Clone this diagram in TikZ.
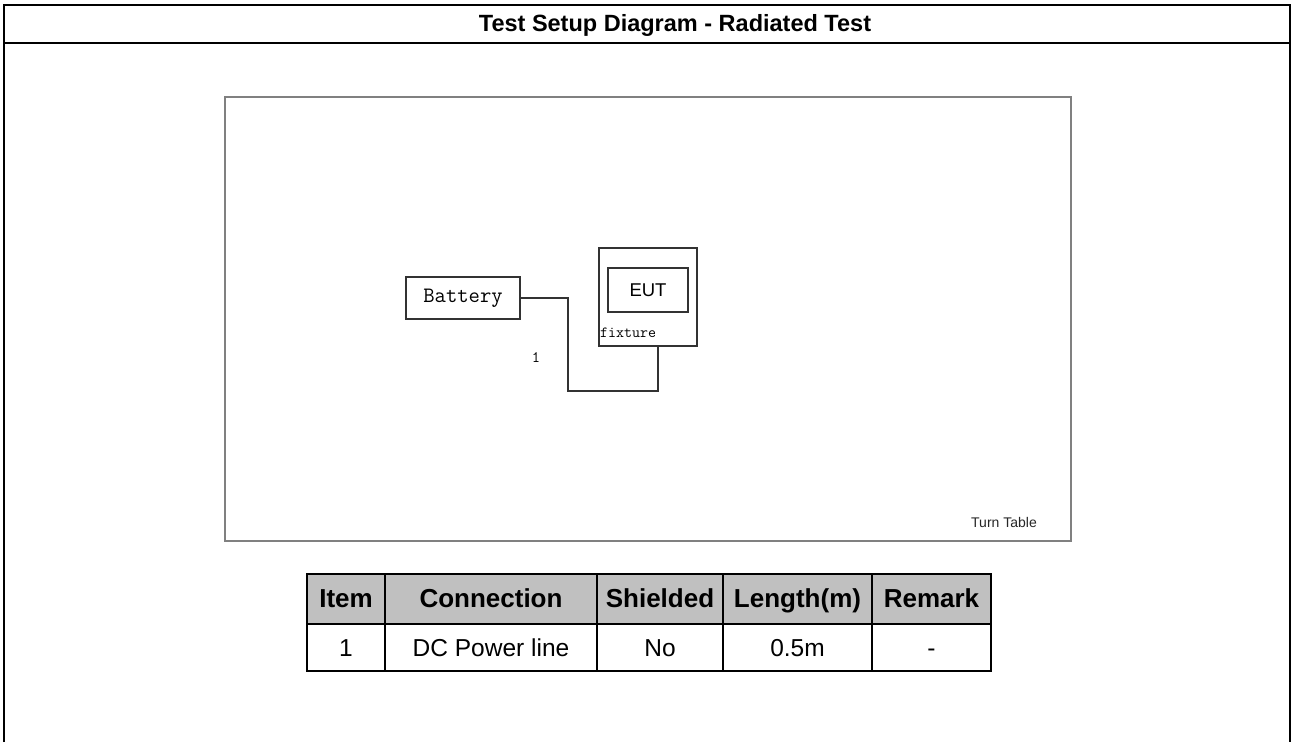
\documentclass[tikz,border=0pt]{standalone}
\usepackage{fontspec}
\setmainfont{Liberation Sans}
\usepackage{tikz}
\usetikzlibrary{positioning}
\definecolor{headgray}{RGB}{192,192,192}
\definecolor{tablegray}{RGB}{128,128,128}
\definecolor{wiregray}{RGB}{50,50,50}
\tikzset{
    frame/.style={
           line width=2.8pt,
           black},
    turntable/.style={
           rectangle,
           draw=tablegray, line width=1.6pt,
           inner sep=0pt},
    kasse/.style={
           rectangle,
           draw=wiregray, line width=1.3pt,
           inner sep=0pt},
    wire/.style={
           draw=wiregray,
           line width=1.3pt},
    cell/.style={
           rectangle,
           draw=black, line width=2.5pt,
           inner sep=0pt, outer sep=0pt,
           text height=17.5pt, text depth=0pt,
           font=\fontsize{24.5}{28}\selectfont},
    head/.style={
           cell,
           fill=headgray,
           minimum height=50pt,
           font=\fontsize{26}{30}\selectfont\bfseries},
    data/.style={
           cell,
           minimum height=47pt}
}

\begin{document}
\begin{tikzpicture}[x=1pt, y=-1pt, node distance=0pt]
        \useasboundingbox (0,0) rectangle (1292,742);

        % outer frame and title
        \draw[frame] (4,742) -- (4,5) -- (1290,5) -- (1290,742);
        \draw[frame] (4,43) -- (1290,43);
        \node[anchor=base, inner sep=0pt, font=\fontsize{23.5}{28}\selectfont\bfseries] (title) at (675,31) {Test Setup Diagram - Radiated Test};

        % turn table
        \node[turntable, minimum width=846pt, minimum height=444pt] (table) at (648,319) {};
        \node[anchor=base east, inner sep=0pt, text=black!85, font=\fontsize{14}{16}\selectfont] (tablelabel) at (1037,527) {Turn Table};

        % equipment
        \node[kasse, minimum width=114pt, minimum height=42pt, font=\ttfamily\fontsize{22}{26}\selectfont] (bat) at (463,298) {Battery};
        \node[kasse, minimum width=98pt, minimum height=98pt] (fix) at (648,297) {};
        \node[kasse, minimum width=80pt, minimum height=44pt, font=\fontsize{18.5}{22}\selectfont] (eut) at (648,290) {EUT};
        \node[anchor=base west, inner sep=0pt, font=\ttfamily\fontsize{15.5}{18}\selectfont] (fixlabel) at (600,337) {fixture};
        \node[inner sep=0pt, font=\ttfamily\fontsize{16}{18}\selectfont] (cable1) at (536,358) {1};

        % cable
        \coordinate (k1) at (568,391);
        \coordinate (k2) at (658,391);
        \draw[wire] (bat.east) -| (k1) -- (k2) -- (k2 |- fix.south);

        % cable table
        \node[head, minimum width=78pt] (hitem) at (346,599) {Item};
        \node[head, minimum width=212pt, right=of hitem] (hconn) {Connection};
        \node[head, minimum width=126pt, right=of hconn] (hshield) {Shielded};
        \node[head, minimum width=149pt, right=of hshield] (hlen) {Length(m)};
        \node[head, minimum width=119pt, right=of hlen] (hrem) {Remark};

        \node[data, minimum width=78pt, below=of hitem] (ditem) {1};
        \node[data, minimum width=212pt, below=of hconn] (dconn) {DC Power line};
        \node[data, minimum width=126pt, below=of hshield] (dshield) {No};
        \node[data, minimum width=149pt, below=of hlen] (dlen) {0.5m};
        \node[data, minimum width=119pt, below=of hrem] (drem) {-};
\end{tikzpicture}
\end{document}
